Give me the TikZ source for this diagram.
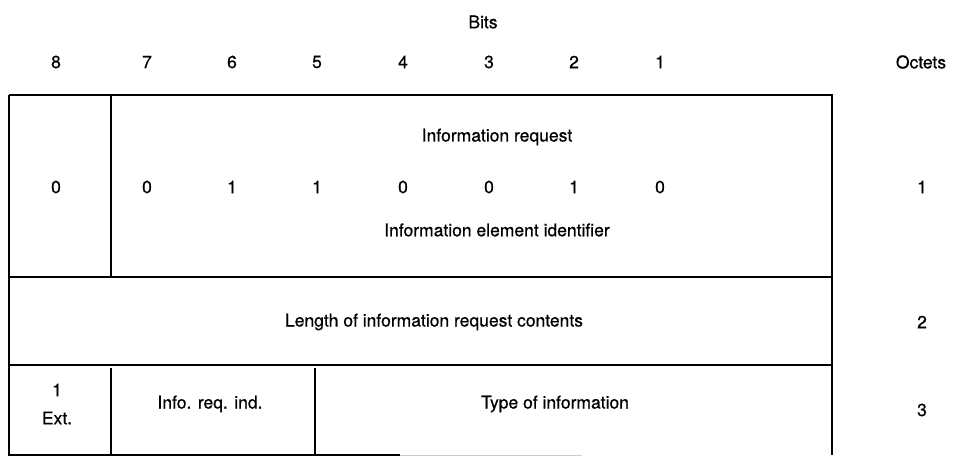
\documentclass[tikz,border=0pt]{standalone}
\usepackage{fontspec}
\setmainfont{TeX Gyre Heros}[FakeBold=0.6]
\begin{document}
\begin{tikzpicture}[x=1pt,y=-1pt,
  lbl/.style={inner sep=0pt,anchor=center,font=\fontsize{17.5}{20}\selectfont},
  rule/.style={line width=1.3pt}]
\useasboundingbox (0,0) rectangle (957,457);
% header
\node[lbl] (bits) at (483,22) {Bits};
\foreach \b/\x in {8/56,7/147,6/232,5/317,4/403,3/489,2/574,1/660}
  \node[lbl] (h\b) at (\x,62) {\b};
\node[lbl] (oct) at (921,62) {Octets};
% table lines
\coordinate (tl) at (9,95); \coordinate (tr) at (832,95);
\coordinate (r1l) at (9,277); \coordinate (r1r) at (832,277);
\coordinate (r2l) at (9,365); \coordinate (r2r) at (832,365);
\coordinate (bl) at (9,455); \coordinate (br) at (832,455);
\coordinate (bm) at (400,455); \coordinate (bg) at (582,455);
\draw[rule] (tl) -- (tr) -- (br);
\draw[rule] (tl) -- (bl) -- (bm);
\draw[line width=0.6pt,gray!40] (bm) -- (bg);
\draw[rule] (r1l) -- (r1r);
\draw[rule] (r2l) -- (r2r);
\draw[rule] (111,95) -- (111,277);
\draw[rule] (111,368) -- (111,455);
\draw[rule] (315,368) -- (315,455);
% row 1
\node[lbl] (ir) at (497,137) {Information request};
\foreach \v/\x [count=\i] in {0/56,0/147,1/232,1/317,0/403,0/489,1/574,0/660}
  \node[lbl] (v\i) at (\x,187) {\v};
\node[lbl] (iei) at (497,230) {Information element identifier};
\node[lbl] (o1) at (922,187) {1};
% row 2
\node[lbl] (len) at (434,322) {Length of information request contents};
\node[lbl] (o2) at (922,322) {2};
% row 3
\node[lbl] (ext1) at (57,390) {1};
\node[lbl] (ext) at (57,418) {Ext.};
\node[lbl] (irind) at (210,404) {Info. req. ind.};
\node[lbl] (toi) at (555,404) {Type of information};
\node[lbl] (o3) at (922,410) {3};
\end{tikzpicture}
\end{document}
